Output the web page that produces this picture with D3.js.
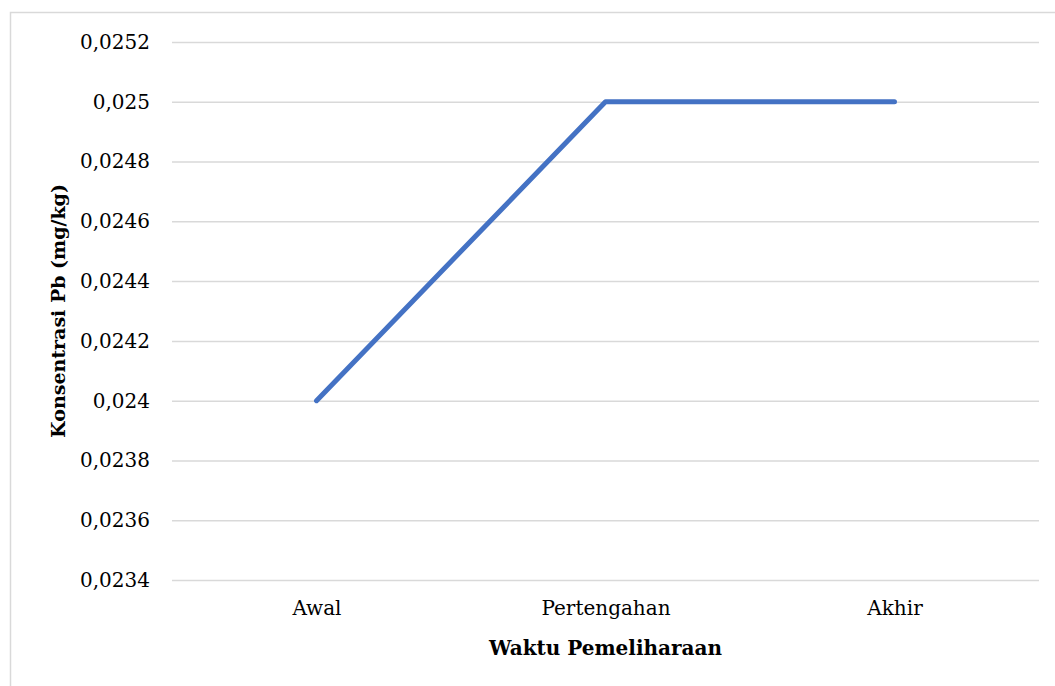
<!DOCTYPE html>
<html>
<head>
<meta charset="utf-8">
<script src="https://cdn.jsdelivr.net/npm/d3@7/dist/d3.min.js"></script>
<style>
  html, body { margin: 0; padding: 0; background: #fff; }
  svg { display: block; }
  text { font-family: "DejaVu Serif", "Liberation Serif", serif; fill: #000; }
</style>
</head>
<body>
<svg id="chart" width="1055" height="686"></svg>
<script>
// Pb concentration over the rearing period
const categories = ["Awal", "Pertengahan", "Akhir"];
const pbValues = [0.024, 0.025, 0.025];
const yTicks = [0.0234, 0.0236, 0.0238, 0.024, 0.0242, 0.0244, 0.0246, 0.0248, 0.025, 0.0252];

const svg = d3.select("#chart");
const W = 1055, H = 686;
const plot = { left: 172, right: 1039, top: 42, bottom: 580 };

// Outer chart frame
svg.append("rect")
  .attr("x", 10.5).attr("y", 12.5)
  .attr("width", W + 20).attr("height", H + 20)
  .attr("fill", "#fff").attr("stroke", "#d9d9d9").attr("stroke-width", 1.5);

const x = d3.scalePoint().domain(categories).range([plot.left, plot.right]).padding(0.5);
const y = d3.scaleLinear().domain([0.0234, 0.0252]).range([plot.bottom, plot.top]);

const fmt = v => d3.format(".4~f")(v).replace(".", ",");

// Horizontal gridlines with value labels
const yAxis = d3.axisLeft(y).tickValues(yTicks).tickFormat(fmt)
  .tickSize(-(plot.right - plot.left)).tickPadding(22);
const gy = svg.append("g").attr("transform", `translate(${plot.left},0)`).call(yAxis);
gy.select(".domain").remove();
gy.selectAll(".tick line").attr("stroke", "#d9d9d9").attr("stroke-width", 1.5);
gy.selectAll(".tick text").attr("font-size", 20).attr("fill", "#000")
  .style("font-family", "DejaVu Serif, serif");

// Category labels
const xAxis = d3.axisBottom(x).tickSize(0).tickPadding(21);
const gx = svg.append("g").attr("transform", `translate(0,${plot.bottom})`).call(xAxis);
gx.select(".domain").remove();
gx.selectAll(".tick text").attr("font-size", 20).attr("fill", "#000")
  .style("font-family", "DejaVu Serif, serif");

// Data line
const line = d3.line().x((d, i) => x(categories[i])).y(d => y(d));
svg.append("path")
  .datum(pbValues)
  .attr("d", line)
  .attr("fill", "none")
  .attr("stroke", "#4472c4")
  .attr("stroke-width", 5)
  .attr("stroke-linejoin", "round")
  .attr("stroke-linecap", "round");

// Axis titles
svg.append("text")
  .attr("x", x("Pertengahan")).attr("y", 655)
  .attr("text-anchor", "middle")
  .attr("font-size", 20).attr("font-weight", "bold")
  .text("Waktu Pemeliharaan");

svg.append("text")
  .attr("transform", `translate(65,${(plot.top + plot.bottom) / 2}) rotate(-90)`)
  .attr("text-anchor", "middle")
  .attr("font-size", 19).attr("font-weight", "bold")
  .text("Konsentrasi Pb (mg/kg)");
</script>
</body>
</html>
